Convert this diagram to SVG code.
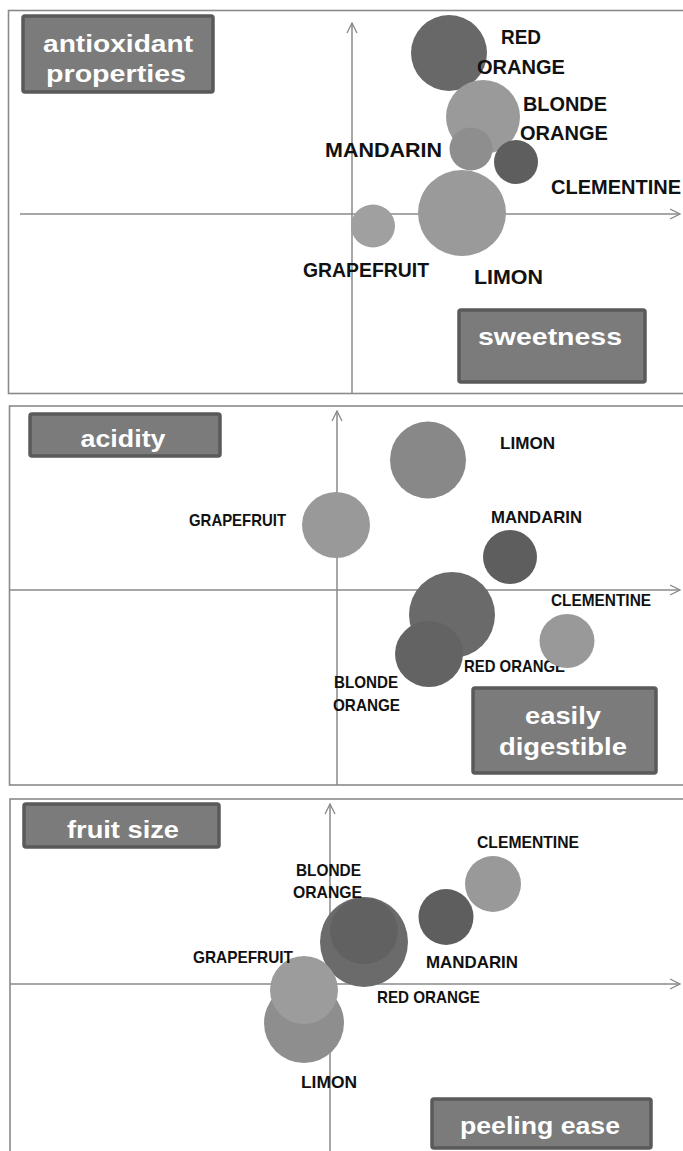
<svg xmlns="http://www.w3.org/2000/svg" width="683" height="1151" viewBox="0 0 683 1151">
<defs>
<marker id="arr" viewBox="0 0 12 12" refX="11" refY="6" markerWidth="12" markerHeight="12" markerUnits="userSpaceOnUse" orient="auto">
<path d="M1,1 L11,6 L1,11" fill="none" stroke="#888" stroke-width="1.3"/>
</marker>
<style>
.panel{fill:#fff;stroke:#8a8a8a;stroke-width:1.6}
.axis{stroke:#8a8a8a;stroke-width:1.5;fill:none}
.box{fill:#7b7b7b;stroke:#5a5a5a;stroke-width:3.5}
.bt{font-family:"Liberation Sans",Arial,sans-serif;font-weight:bold;font-size:23px;fill:#fff;text-anchor:middle}
.lb{font-family:"Liberation Sans",Arial,sans-serif;font-weight:bold;fill:#111}
.l1{font-size:20px}
.l2{font-size:17px}
.l3{font-size:17px}
</style>
</defs>
<rect width="683" height="1151" fill="#fff"/>

<!-- Panel 1 -->
<g id="panel1">
<rect class="panel" x="8.5" y="10.5" width="690" height="383"/>
<g id="p1-connectors">
<line class="axis" x1="20" y1="214" x2="680" y2="214" marker-end="url(#arr)"/>
<line class="axis" x1="352" y1="393" x2="352" y2="23" marker-end="url(#arr)"/>
</g>
<g id="p1-ylabel"><rect class="box" x="23" y="16" width="190" height="76" rx="2"/>
<text class="bt" x="118" y="52" textLength="150" lengthAdjust="spacingAndGlyphs">antioxidant</text>
<text class="bt" x="116" y="82" textLength="140" lengthAdjust="spacingAndGlyphs">properties</text></g>
<g id="p1-xlabel"><rect class="box" x="459" y="310" width="186" height="72" rx="2"/>
<text class="bt" x="550" y="345" textLength="144" lengthAdjust="spacingAndGlyphs">sweetness</text></g>
<g id="p1-red-orange"><ellipse cx="449" cy="53" rx="38" ry="38" fill="#686868"/>
<text class="lb l1" x="501" y="44" textLength="40" lengthAdjust="spacingAndGlyphs">RED</text>
<text class="lb l1" x="477" y="74" textLength="88" lengthAdjust="spacingAndGlyphs">ORANGE</text></g>
<g id="p1-blonde-orange"><ellipse cx="483" cy="117" rx="37" ry="37" fill="#9a9a9a"/>
<text class="lb l1" x="523" y="111" textLength="84" lengthAdjust="spacingAndGlyphs">BLONDE</text>
<text class="lb l1" x="520" y="140" textLength="88" lengthAdjust="spacingAndGlyphs">ORANGE</text></g>
<g id="p1-mandarin"><ellipse cx="471" cy="149" rx="21.5" ry="21.5" fill="#8e8e8e"/>
<text class="lb l1" x="325" y="157" textLength="117" lengthAdjust="spacingAndGlyphs">MANDARIN</text></g>
<g id="p1-clementine"><ellipse cx="516" cy="162" rx="22" ry="22" fill="#5e5e5e"/>
<text class="lb l1" x="551" y="194" textLength="130" lengthAdjust="spacingAndGlyphs">CLEMENTINE</text></g>
<g id="p1-limon"><ellipse cx="462" cy="213" rx="44" ry="43" fill="#9a9a9a"/>
<text class="lb l1" x="474" y="284" textLength="69" lengthAdjust="spacingAndGlyphs">LIMON</text></g>
<g id="p1-grapefruit"><ellipse cx="373" cy="226" rx="22" ry="21.5" fill="#a0a0a0"/>
<text class="lb l1" x="303" y="277" textLength="126" lengthAdjust="spacingAndGlyphs">GRAPEFRUIT</text></g>
</g>

<!-- Panel 2 -->
<g id="panel2">
<rect class="panel" x="9.5" y="406" width="690" height="379"/>
<g id="p2-connectors">
<line class="axis" x1="10" y1="590" x2="680" y2="590" marker-end="url(#arr)"/>
<line class="axis" x1="337" y1="785" x2="337" y2="411" marker-end="url(#arr)"/>
</g>
<g id="p2-ylabel"><rect class="box" x="30" y="414" width="190" height="42" rx="2"/>
<text class="bt" x="123" y="447" textLength="85" lengthAdjust="spacingAndGlyphs">acidity</text></g>
<g id="p2-xlabel"><rect class="box" x="473" y="688" width="183" height="85" rx="2"/>
<text class="bt" x="563" y="724" textLength="76" lengthAdjust="spacingAndGlyphs">easily</text>
<text class="bt" x="563" y="755" textLength="128" lengthAdjust="spacingAndGlyphs">digestible</text></g>
<g id="p2-limon"><ellipse cx="428" cy="460" rx="38" ry="38.5" fill="#888"/>
<text class="lb l2" x="500" y="449" textLength="55" lengthAdjust="spacingAndGlyphs">LIMON</text></g>
<g id="p2-grapefruit"><ellipse cx="336" cy="525" rx="34" ry="33" fill="#999"/>
<text class="lb l2" x="189" y="526" textLength="97" lengthAdjust="spacingAndGlyphs">GRAPEFRUIT</text></g>
<g id="p2-mandarin"><ellipse cx="510" cy="557" rx="27" ry="27" fill="#5e5e5e"/>
<text class="lb l2" x="491" y="523" textLength="91" lengthAdjust="spacingAndGlyphs">MANDARIN</text></g>
<g id="p2-red-orange"><ellipse cx="452" cy="615" rx="43" ry="43" fill="#6a6a6a"/>
<text class="lb l2" x="464" y="672" textLength="101" lengthAdjust="spacingAndGlyphs">RED ORANGE</text></g>
<g id="p2-blonde-orange"><ellipse cx="429" cy="654" rx="34" ry="33" fill="#636363"/>
<text class="lb l2" x="334" y="688" textLength="64" lengthAdjust="spacingAndGlyphs">BLONDE</text>
<text class="lb l2" x="333" y="711" textLength="67" lengthAdjust="spacingAndGlyphs">ORANGE</text></g>
<g id="p2-clementine"><ellipse cx="567" cy="641" rx="27.5" ry="27" fill="#999"/>
<text class="lb l2" x="551" y="606" textLength="100" lengthAdjust="spacingAndGlyphs">CLEMENTINE</text></g>
</g>

<!-- Panel 3 -->
<g id="panel3">
<rect class="panel" x="10" y="799" width="690" height="400"/>
<g id="p3-connectors">
<line class="axis" x1="10" y1="984" x2="680" y2="984" marker-end="url(#arr)"/>
<line class="axis" x1="330" y1="1151" x2="330" y2="804" marker-end="url(#arr)"/>
</g>
<g id="p3-ylabel"><rect class="box" x="24" y="804" width="195" height="43" rx="2"/>
<text class="bt" x="123" y="838" textLength="112" lengthAdjust="spacingAndGlyphs">fruit size</text></g>
<g id="p3-xlabel"><rect class="box" x="432" y="1099" width="219" height="49" rx="2"/>
<text class="bt" x="540" y="1134" textLength="160" lengthAdjust="spacingAndGlyphs">peeling ease</text></g>
<g id="p3-clementine"><ellipse cx="493" cy="884" rx="28" ry="28" fill="#999"/>
<text class="lb l3" x="477" y="848" textLength="102" lengthAdjust="spacingAndGlyphs">CLEMENTINE</text></g>
<g id="p3-mandarin"><ellipse cx="446" cy="917" rx="27.5" ry="28" fill="#5e5e5e"/>
<text class="lb l3" x="426" y="968" textLength="92" lengthAdjust="spacingAndGlyphs">MANDARIN</text></g>
<g id="p3-red-orange"><ellipse cx="364" cy="942" rx="44" ry="45" fill="#6b6b6b"/>
<text class="lb l3" x="377" y="1003" textLength="103" lengthAdjust="spacingAndGlyphs">RED ORANGE</text></g>
<g id="p3-blonde-orange"><ellipse cx="364" cy="931" rx="34" ry="33" fill="#616161"/>
<text class="lb l3" x="296" y="876" textLength="65" lengthAdjust="spacingAndGlyphs">BLONDE</text>
<text class="lb l3" x="293" y="898" textLength="69" lengthAdjust="spacingAndGlyphs">ORANGE</text></g>
<g id="p3-limon"><ellipse cx="304" cy="1023" rx="40" ry="40" fill="#8e8e8e"/>
<text class="lb l3" x="301" y="1088" textLength="56" lengthAdjust="spacingAndGlyphs">LIMON</text></g>
<g id="p3-grapefruit"><ellipse cx="304" cy="990" rx="34" ry="34" fill="#9c9c9c"/>
<text class="lb l3" x="193" y="963" textLength="100" lengthAdjust="spacingAndGlyphs">GRAPEFRUIT</text></g>
</g>
</svg>
